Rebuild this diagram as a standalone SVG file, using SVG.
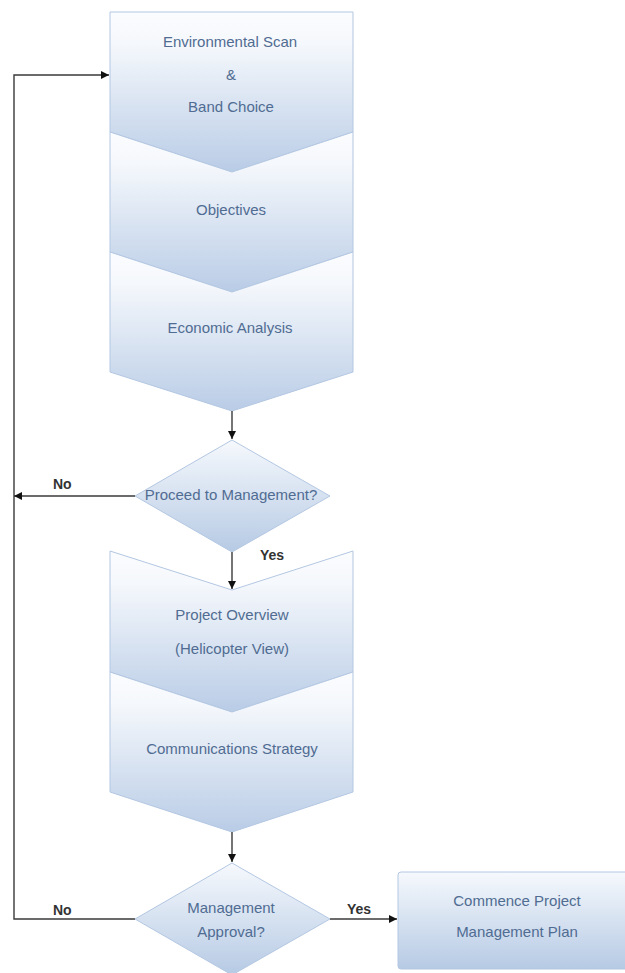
<svg xmlns="http://www.w3.org/2000/svg" width="625" height="973" viewBox="0 0 625 973">
<defs>
<linearGradient id="g" x1="0" y1="0" x2="0" y2="1">
<stop offset="0" stop-color="#fbfcfe"/>
<stop offset="0.2" stop-color="#f5f8fc"/>
<stop offset="1" stop-color="#b9cce6"/>
</linearGradient>
<linearGradient id="gd" x1="0" y1="0" x2="0" y2="1">
<stop offset="0" stop-color="#f6f9fd"/>
<stop offset="1" stop-color="#b6cae4"/>
</linearGradient>
<marker id="ar" viewBox="0 0 10 10" refX="10" refY="5" markerWidth="8" markerHeight="8" markerUnits="userSpaceOnUse" orient="auto">
<path d="M0,0 L10,5 L0,10 Z" fill="#111"/>
</marker>
</defs>
<style>
.s{fill:url(#g);stroke:#b3c7e2;stroke-width:1}
.d{fill:url(#gd);stroke:#b3c7e2;stroke-width:1}
.t{font-family:"Liberation Sans",Arial,sans-serif;font-size:15px;fill:#506c92;text-anchor:middle}
.l{font-family:"Liberation Sans",Arial,sans-serif;font-size:14px;fill:#333;font-weight:bold}
.c{fill:none;stroke:#3a3a3a;stroke-width:1.4}
</style>
<g id="env">
<path class="s" d="M110,12 H353 V132 L232,172 L110,132 Z"/>
<text class="t" x="230" y="47">Environmental Scan</text>
<text class="t" x="231" y="80">&amp;</text>
<text class="t" x="231" y="112">Band Choice</text>
</g>
<g id="obj">
<path class="s" d="M110,132 L232,172 L353,132 V252 L232,292 L110,252 Z"/>
<text class="t" x="231" y="215">Objectives</text>
</g>
<g id="eco">
<path class="s" d="M110,252 L232,292 L353,252 V372 L232,411 L110,372 Z"/>
<text class="t" x="230" y="333">Economic Analysis</text>
</g>
<g id="dec1">
<path class="d" d="M232,440 L330,496 L232,552 L135,496 Z"/>
<text class="t" x="231" y="500">Proceed to Management?</text>
</g>
<g id="proj">
<path class="s" d="M110,551 L232,590 L353,551 V672 L232,712 L110,672 Z"/>
<text class="t" x="232" y="620">Project Overview</text>
<text class="t" x="232" y="654">(Helicopter View)</text>
</g>
<g id="comm">
<path class="s" d="M110,672 L232,712 L353,672 V792 L232,832 L110,792 Z"/>
<text class="t" x="232" y="754">Communications Strategy</text>
</g>
<g id="dec2">
<path class="d" d="M232,863 L330,919 L232,975 L135,919 Z"/>
<text class="t" x="231" y="913">Management</text>
<text class="t" x="231" y="937">Approval?</text>
</g>
<g id="plan">
<rect class="d" x="398" y="872" width="240" height="97" rx="3"/>
<text class="t" x="517" y="906">Commence Project</text>
<text class="t" x="517" y="937">Management Plan</text>
</g>
<g id="connectors">
<line class="c" x1="232" y1="411" x2="232" y2="439" marker-end="url(#ar)"/>
<line class="c" x1="232" y1="552" x2="232" y2="589" marker-end="url(#ar)"/>
<line class="c" x1="232" y1="832" x2="232" y2="862" marker-end="url(#ar)"/>
<line class="c" x1="135" y1="496" x2="14" y2="496" marker-end="url(#ar)"/>
<polyline class="c" points="135,919 14,919 14,75 109,75" marker-end="url(#ar)"/>
<line class="c" x1="330" y1="919" x2="397" y2="919" marker-end="url(#ar)"/>
<text class="l" x="53" y="489">No</text>
<text class="l" x="260" y="560">Yes</text>
<text class="l" x="53" y="915">No</text>
<text class="l" x="347" y="914">Yes</text>
</g>
</svg>
